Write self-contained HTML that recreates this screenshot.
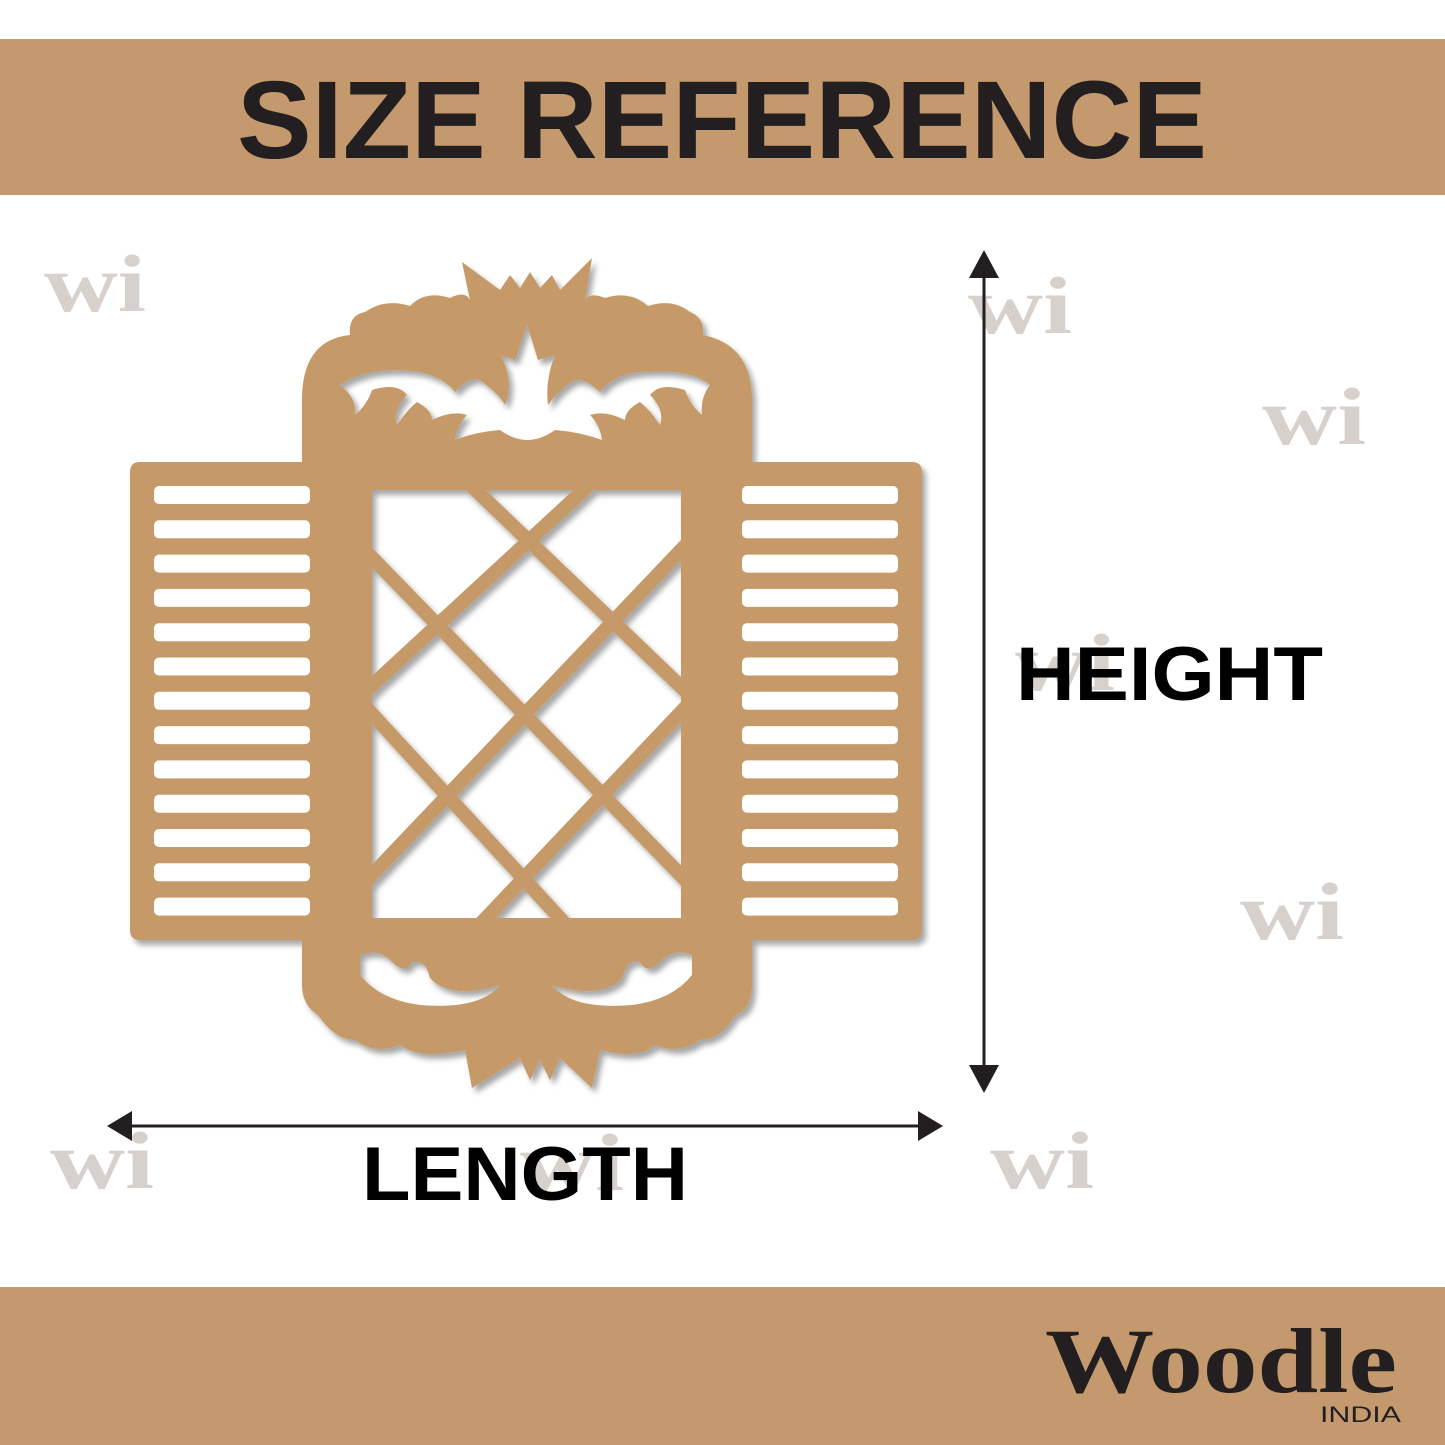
<!DOCTYPE html>
<html><head><meta charset="utf-8"><style>
html,body{margin:0;padding:0;background:#fff;}
svg{display:block;}
</style></head><body>
<svg width="1445" height="1445" viewBox="0 0 1445 1445" xmlns="http://www.w3.org/2000/svg">
<defs>
<filter id="sh" x="-10%" y="-10%" width="125%" height="125%">
<feDropShadow dx="4" dy="5" stdDeviation="3" flood-color="#000" flood-opacity="0.35"/>
</filter>
<clipPath id="win"><rect x="372" y="490" width="309" height="428"/></clipPath>
</defs>
<rect width="1445" height="1445" fill="#fff"/>
<rect x="0" y="39" width="1445" height="156" fill="#C4996D"/>
<rect x="0" y="1287" width="1445" height="158" fill="#C4996D"/>
<text x="237" y="158" font-family="Liberation Sans, sans-serif" font-weight="bold" font-size="110" fill="#231F20" textLength="970" lengthAdjust="spacingAndGlyphs">SIZE REFERENCE</text>

<!-- watermarks -->
<g font-family="Liberation Serif, serif" font-weight="bold" font-size="82" fill="#D6D1CD">
<text x="44" y="311" textLength="102" lengthAdjust="spacingAndGlyphs">wi</text>
<text x="968" y="333" textLength="104" lengthAdjust="spacingAndGlyphs">wi</text>
<text x="1262" y="444" textLength="104" lengthAdjust="spacingAndGlyphs">wi</text>
<text x="1240" y="939" textLength="104" lengthAdjust="spacingAndGlyphs">wi</text>
<text x="50" y="1188" textLength="104" lengthAdjust="spacingAndGlyphs">wi</text>
<text x="990" y="1188" textLength="104" lengthAdjust="spacingAndGlyphs">wi</text>
<text x="520" y="1190" textLength="104" lengthAdjust="spacingAndGlyphs">wi</text>
<text x="1015" y="690" textLength="100" lengthAdjust="spacingAndGlyphs">wi</text>
</g>

<!-- wooden piece -->
<g filter="url(#sh)">
<path fill-rule="evenodd" fill="#C69A68" d="
M140 462 H302 V400 Q302 340 350 335 Q348 315 365 312 Q385 298 410 306 Q425 290 450 298 Q465 290 470 300 L462 262 L500 290 L510 275 L520 288 L530 272 L540 288 L552 275 L560 290 L592 258 L585 300 Q590 292 605 298 Q630 290 648 306 Q672 298 690 312 Q705 318 703 335 Q752 345 752 400 V462 H912 Q922 462 922 472 V930 Q922 940 912 940 H752 V985 Q752 1010 735 1015 Q720 1040 700 1040 Q680 1055 655 1045 Q640 1060 600 1050 L592 1088 L560 1058 L550 1080 L540 1060 L530 1080 L520 1058 L472 1088 L465 1050 Q420 1060 400 1045 Q375 1055 355 1040 Q335 1040 318 1015 Q302 1005 302 985 V940 H140 Q130 940 130 930 V472 Q130 462 140 462 Z
M372 490 H681 V918 H372 Z
M340 385 Q370 365 420 372 Q445 378 455 392 Q470 375 480 380 Q500 395 505 405 Q515 380 500 355 L515 360 L527 325 L538 360 L555 355 Q545 380 548 405 Q560 388 575 380 Q585 378 600 392 Q612 375 640 372 Q690 368 710 385 Q700 398 702 415 Q690 405 685 390 Q660 382 650 395 Q665 410 660 425 Q650 410 640 402 Q625 410 625 420 Q605 410 590 415 Q600 425 602 440 Q580 432 555 430 Q527 450 500 430 Q475 432 455 440 Q457 425 467 415 Q452 410 432 420 Q432 410 417 402 Q407 410 397 425 Q392 410 407 395 Q397 382 372 390 Q367 405 355 415 Q357 398 340 385 Z
M360 955 Q380 948 392 962 Q405 975 412 962 Q425 958 430 978 Q450 1000 500 985 Q480 1010 420 1005 Q380 1000 360 975 Z
M692 955 Q672 948 660 962 Q647 975 640 962 Q627 958 622 978 Q602 1000 552 985 Q572 1010 632 1005 Q672 1000 692 975 Z
"/>
<g fill="#fff">
<rect x="154" y="486" width="156" height="18" rx="5"/>
<rect x="154" y="520.3" width="156" height="18" rx="5"/>
<rect x="154" y="554.6" width="156" height="18" rx="5"/>
<rect x="154" y="588.9" width="156" height="18" rx="5"/>
<rect x="154" y="623.2" width="156" height="18" rx="5"/>
<rect x="154" y="657.5" width="156" height="18" rx="5"/>
<rect x="154" y="691.8" width="156" height="18" rx="5"/>
<rect x="154" y="726.1" width="156" height="18" rx="5"/>
<rect x="154" y="760.4" width="156" height="18" rx="5"/>
<rect x="154" y="794.7" width="156" height="18" rx="5"/>
<rect x="154" y="829" width="156" height="18" rx="5"/>
<rect x="154" y="863.3" width="156" height="18" rx="5"/>
<rect x="154" y="897.6" width="156" height="18" rx="5"/>
<rect x="742" y="486" width="156" height="18" rx="5"/>
<rect x="742" y="520.3" width="156" height="18" rx="5"/>
<rect x="742" y="554.6" width="156" height="18" rx="5"/>
<rect x="742" y="588.9" width="156" height="18" rx="5"/>
<rect x="742" y="623.2" width="156" height="18" rx="5"/>
<rect x="742" y="657.5" width="156" height="18" rx="5"/>
<rect x="742" y="691.8" width="156" height="18" rx="5"/>
<rect x="742" y="726.1" width="156" height="18" rx="5"/>
<rect x="742" y="760.4" width="156" height="18" rx="5"/>
<rect x="742" y="794.7" width="156" height="18" rx="5"/>
<rect x="742" y="829" width="156" height="18" rx="5"/>
<rect x="742" y="863.3" width="156" height="18" rx="5"/>
<rect x="742" y="897.6" width="156" height="18" rx="5"/>
</g>
<!-- lattice -->
<g clip-path="url(#win)" stroke="#C69A68" stroke-width="14">
<line x1="340" y1="715" x2="600" y2="475"/>
<line x1="700" y1="530" x2="350" y2="898"/>
<line x1="700" y1="692" x2="470" y2="935"/>
<line x1="460" y1="475" x2="700" y2="705"/>
<line x1="350" y1="535" x2="700" y2="895"/>
<line x1="350" y1="690" x2="580" y2="940"/>
</g>
</g>

<!-- arrows -->
<g fill="#231F20" stroke="#231F20">
<line x1="984" y1="270" x2="984" y2="1072" stroke-width="3"/>
<polygon points="984,250 969,278 999,278" stroke="none"/>
<polygon points="984,1093 969,1065 999,1065" stroke="none"/>
<line x1="130" y1="1126" x2="920" y2="1126" stroke-width="3"/>
<polygon points="107,1126 132,1111 132,1141" stroke="none"/>
<polygon points="943,1126 918,1111 918,1141" stroke="none"/>
</g>
<g font-family="Liberation Sans, sans-serif" font-weight="bold" font-size="76" fill="#000">
<text x="362" y="1200" textLength="326" lengthAdjust="spacingAndGlyphs">LENGTH</text>
<text x="1016" y="700" textLength="307" lengthAdjust="spacingAndGlyphs">HEIGHT</text>
</g>

<!-- logo -->
<text x="1045" y="1392" font-family="Liberation Serif, serif" font-weight="bold" font-size="92" fill="#231F20" textLength="352" lengthAdjust="spacingAndGlyphs">Woodle</text>
<text x="1320" y="1422" font-family="Liberation Sans, sans-serif" font-size="22" fill="#231F20" textLength="81" lengthAdjust="spacingAndGlyphs">INDIA</text>
</svg>
</body></html>
